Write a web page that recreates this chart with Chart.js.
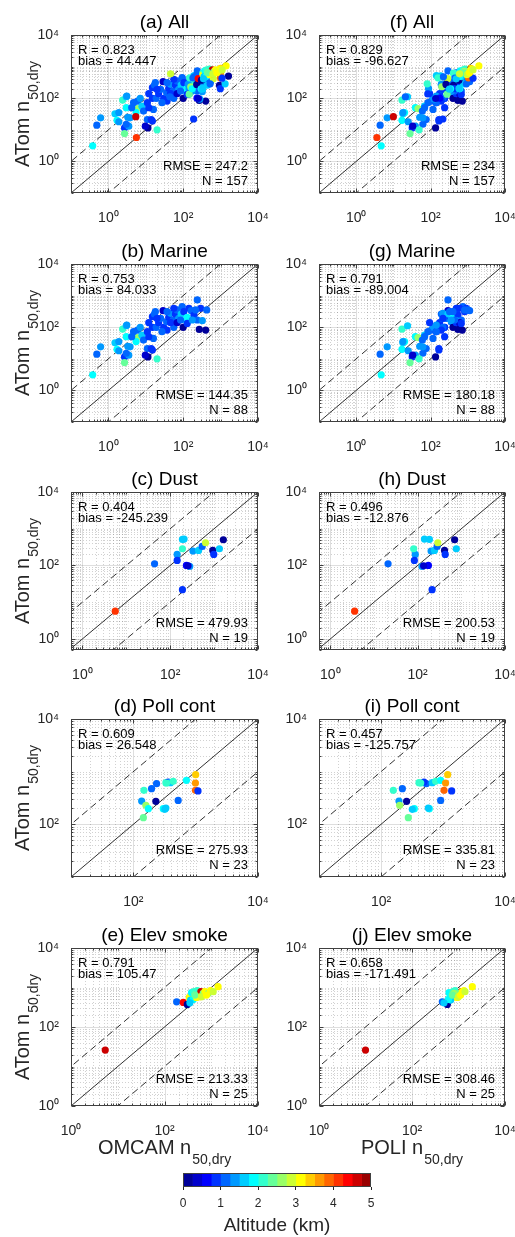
<!DOCTYPE html>
<html>
<head>
<meta charset="utf-8">
<script src="https://cdn.jsdelivr.net/npm/chart.js@4.4.0/dist/chart.umd.min.js"></script>
<style>
  body { margin: 0; background: #fff; width: 515px; height: 1237px; position: relative; overflow: hidden; }
  canvas { position: absolute; }
</style>
</head>
<body>
<script>
// ---- data (ATom = y, OMCAM = x left column, POLI = x right column, altitude in km = colour)
const marineAtom = [3.1, 14, 24, 32, 20, 18, 87, 111, 50, 25, 11.5, 13, 15, 7.6, 47, 35, 81, 99, 56, 39,
  72, 21, 11.5, 19, 10, 139, 215, 262, 99, 99, 139, 190, 334, 99, 149, 205, 275, 169, 262, 351,
  190, 262, 448, 310, 169, 205, 99, 99, 396, 334, 243, 730, 169, 396, 161, 85, 81, 351, 81, 72,
  44, 50, 50, 72, 24, 35, 117, 190, 310, 139, 139, 169, 132, 169, 351, 396, 310, 13, 21];
const marineOmcam = [0.38, 0.49, 0.62, 1.5, 1.7, 1.9, 2.4, 3.0, 3.0, 3.3, 2.7, 3.5, 3.0, 2.7, 5.8, 5.5, 6.0, 7.1, 7.9, 8.7,
  11, 11, 11.4, 15, 20, 12, 15, 17, 15, 19, 22, 25, 29, 30, 36, 41, 46, 54, 62, 69,
  76, 88, 94, 104, 116, 128, 100, 56, 142, 164, 194, 238, 238, 293, 324, 269, 399, 425, 37, 27,
  16, 12, 4.2, 4.7, 3.8, 1.9, 3.1, 20, 18, 46, 69, 85, 128, 175, 215, 56, 37, 9.7, 14];
const marinePoli = [4.7, 4.4, 6.8, 18, 17, 25, 17, 24, 39, 51, 32, 39, 62, 28, 46, 20, 104, 116, 69, 60,
  142, 76, 136, 167, 49, 94, 264, 194, 157, 238, 175, 264, 293, 238, 360, 324, 215, 360, 443, 491,
  215, 293, 741, 822, 360, 399, 399, 215, 912, 1120, 544, 293, 668, 603, 491, 544, 711, 1010, 194, 142,
  116, 238, 69, 85, 62, 18, 142, 215, 324, 491, 603, 443, 668, 360, 822, 491, 399, 33, 167];
const marineAlt = [1.9, 1.1, 1.4, 1.5, 1.9, 1.4, 2.1, 1.5, 1.8, 1.4, 0.9, 1.4, 1.0, 2.4, 2.6, 1.8, 1.0, 1.4, 1.5, 1.0,
  0.9, 1.0, 0.1, 0.9, 2.1, 0.9, 0.9, 1.0, 0.8, 1.0, 0.9, 1.0, 0.4, 0.9, 1.0, 0.9, 1.4, 1.0, 0.9, 1.0,
  1.4, 1.5, 1.0, 0.9, 1.8, 1.9, 0.1, 1.0, 0.9, 1.0, 0.9, 1.2, 1.0, 0.9, 1.4, 0.1, 0.1, 1.0, 0.9, 1.0,
  1.0, 0.9, 1.0, 1.1, 1.4, 1.4, 1.4, 0.9, 1.0, 0.9, 0.4, 1.0, 0.9, 1.4, 1.0, 0.9, 1.0, 0.4, 0.9];

const dustAtom = [5.7, 111, 200, 137, 523, 285, 100, 94, 22, 246, 257, 330, 415, 257, 200, 285, 501, 512, 98];
const dustOmcam = [5.6, 44, 144, 144, 207, 190, 234, 278, 190, 330, 443, 536, 638, 933, 982, 1320, 1624, 190, 255];
const dustPoli = [3.6, 21, 88, 84, 143, 81, 176, 126, 214, 203, 243, 279, 289, 412, 427, 767, 702, 186, 137];
const dustAlt = [4.1, 1.0, 1.4, 0.9, 1.5, 2.2, 0.6, 1.4, 0.9, 1.4, 1.5, 1.0, 2.9, 0.1, 0.9, 1.5, 0.2, 1.5, 0.4];

const pollAtom = [134, 277, 230, 198, 442, 475, 591, 273, 198, 204, 618, 636, 618, 655, 285, 684, 877, 609, 442, 430, 193, 609];
const pollOmcam = [145, 136, 159, 174, 148, 196, 236, 230, 302, 333, 333, 362, 395, 436, 524, 711, 1000, 991, 991, 1090, 321, 341];
const pollPoli = [276, 195, 200, 345, 158, 221, 538, 259, 602, 580, 410, 494, 673, 762, 916, 916, 1190, 1100, 1040, 1380, 320, 437];
const pollAlt = [2.4, 1.4, 2.6, 1.9, 2.2, 1.0, 1.1, 0.1, 1.8, 1.5, 2.1, 0.9, 1.5, 2.2, 1.0, 1.8, 3.4, 3.6, 3.9, 0.9, 1.6, 2.0];

const smokeAtom = [26, 435, 418, 372, 561, 738, 783, 710, 830, 644, 783, 583, 710, 783, 710, 830, 1050, 480, 499, 561, 644, 410, 583, 644, 783];
const smokeOmcam = [5.4, 182, 252, 307, 338, 379, 425, 485, 501, 553, 600, 571, 673, 730, 860, 964, 1400, 361, 412, 485, 447, 350, 620, 793, 1100];
const smokePoli = [10, 449, 530, 575, 737, 625, 762, 869, 841, 841, 1150, 913, 1020, 1210, 800, 1310, 1980, 679, 604, 944, 737, 488, 996, 1110, 1380];
const smokeAlt = [4.6, 1.1, 4.4, 0.1, 3.1, 1.9, 2.1, 2.6, 2.0, 2.9, 4.6, 3.4, 2.4, 3.1, 2.6, 3.1, 3.1, 1.6, 1.9, 3.1, 2.4, 1.5, 2.9, 3.1, 2.9];

// points only in the "All" panels
const otherAtom = [590];
const otherOmcam = [46];
const otherPoli = [600];
const otherAlt = [2.9];

const catNames = ['All', 'Marine', 'Dust', 'Poll cont', 'Elev smoke'];
const panelLetters = [['a', 'f'], ['b', 'g'], ['c', 'h'], ['d', 'i'], ['e', 'j']];
const statR = [['0.823', '0.829'], ['0.753', '0.791'], ['0.404', '0.496'], ['0.609', '0.457'], ['0.791', '0.658']];
const statBias = [['44.447', '-96.627'], ['84.033', '-89.004'], ['-245.239', '-12.876'], ['26.548', '-125.757'], ['105.47', '-171.491']];
const statRMSE = [['247.2', '234'], ['144.35', '180.18'], ['479.93', '200.53'], ['275.93', '335.81'], ['213.33', '308.46']];
const statN = ['157', '88', '19', '23', '25'];
const xNames = ['OMCAM', 'POLI'];

const axisMinX = [0.1, 0.1, 0.55, 10, 1];
const axisMinY = [0.1, 0.1, 0.5, 10, 1];
const axisMax = 1e4;
const tickExps = [0, 2, 4];          // labelled decades
const refFactors = [1, 10, 0.1];     // 1:1 and factor-of-10 lines
const refSpan = [1e-3, 1e6];

const altEdges = [0, 0.25, 0.5, 0.75, 1, 1.25, 1.5, 1.75, 2, 2.25, 2.5, 2.75, 3, 3.25, 3.5, 3.75, 4, 4.25, 4.5, 4.75, 5];
const altTicks = [0, 1, 2, 3, 4, 5];

// ---- style
const jet = ['#000099', '#0000cc', '#0000ff', '#0033ff', '#0066ff', '#0099ff', '#00ccff', '#00ffff', '#33ffcc', '#66ff99',
  '#99ff66', '#ccff33', '#ffff00', '#ffcc00', '#ff9900', '#ff6600', '#ff3300', '#ff0000', '#cc0000', '#990000'];
const FONT = '"Liberation Sans", Arial, Helvetica, sans-serif';
const AXIS_COL = '#262626';

const colLeft = [71, 319];
const colWidth = [187, 186];
const rowTop = [35, 264, 492, 719, 948];
const plotH = 158;
const PAD_L = 71, PAD_T = 35, PAD_R = 25, PAD_B = 65;

function altColor(a) {
  const i = Math.floor(a / 0.25);
  return jet[Math.max(0, Math.min(jet.length - 1, i))];
}

function logTicks(min, max) {
  const out = [];
  for (let k = Math.floor(Math.log10(min)); k <= Math.ceil(Math.log10(max)); k++) {
    for (let m = 1; m <= 9; m++) {
      const v = m * Math.pow(10, k);
      if (v >= min * 0.999999 && v <= max * 1.000001) out.push(v);
    }
  }
  return out;
}

function decadeOf(v) {
  const e = Math.log10(v);
  return Math.abs(e - Math.round(e)) < 1e-6 ? Math.round(e) : null;
}

const SUP = { '-': '\u207b', '0': '\u2070', '1': '\u00b9', '2': '\u00b2', '3': '\u00b3', '4': '\u2074' };
function tickText(v) {
  const e = decadeOf(v);
  if (e === null || !tickExps.includes(e)) return '';
  return '10' + String(e).split('').map(c => SUP[c]).join('');
}

function drawSubLabel(ctx, main, sub, x, y, rotate, subDrop) {
  ctx.save();
  ctx.translate(x, y);
  if (rotate) ctx.rotate(-Math.PI / 2);
  ctx.font = '20px ' + FONT;
  const w1 = ctx.measureText(main).width;
  ctx.font = '14px ' + FONT;
  const w2 = ctx.measureText(sub).width;
  const x0 = -(w1 + w2 + 1) / 2;
  ctx.fillStyle = AXIS_COL;
  ctx.textAlign = 'left';
  ctx.textBaseline = 'alphabetic';
  ctx.font = '20px ' + FONT;
  ctx.fillText(main, x0, 0);
  ctx.font = '14px ' + FONT;
  ctx.fillText(sub, x0 + w1 + 1, subDrop);
  ctx.restore();
}

const frame = {
  id: 'frame',
  beforeDatasetsDraw(chart) {
    const { ctx, chartArea: a } = chart;
    ctx.save();
    ctx.beginPath();
    ctx.rect(a.left, a.top, a.right - a.left, a.bottom - a.top);
    ctx.clip();
    ctx.lineWidth = 1;
    ['x', 'y'].forEach(id => {
      const s = chart.scales[id];
      s.ticks.forEach(t => {
        const e = decadeOf(t.value);
        const major = e !== null && tickExps.includes(e);
        const p = Math.round(s.getPixelForValue(t.value)) + 0.5;
        ctx.strokeStyle = major ? 'rgba(0,0,0,0.13)' : 'rgba(0,0,0,0.18)';
        ctx.setLineDash(major ? [] : [1, 2]);
        ctx.beginPath();
        if (id === 'x') { ctx.moveTo(p, a.top); ctx.lineTo(p, a.bottom); }
        else { ctx.moveTo(a.left, p); ctx.lineTo(a.right, p); }
        ctx.stroke();
      });
    });
    ctx.restore();
  },
  afterDraw(chart, args, o) {
    const { ctx, chartArea: a } = chart;
    const L = Math.round(a.left) + 0.5, R = Math.round(a.right) - 0.5;
    const T = Math.round(a.top) + 0.5, B = Math.round(a.bottom) - 0.5;
    ctx.save();
    // box and inward ticks on all four sides
    ctx.strokeStyle = '#404040';
    ctx.lineWidth = 1;
    ctx.setLineDash([]);
    ctx.strokeRect(L, T, R - L, B - T);
    ctx.beginPath();
    chart.scales.x.ticks.forEach(t => {
      const e = decadeOf(t.value);
      const len = (e !== null && tickExps.includes(e)) ? 4 : 2;
      const p = Math.round(chart.scales.x.getPixelForValue(t.value)) + 0.5;
      ctx.moveTo(p, B); ctx.lineTo(p, B - len);
      ctx.moveTo(p, T); ctx.lineTo(p, T + len);
    });
    chart.scales.y.ticks.forEach(t => {
      const e = decadeOf(t.value);
      const len = (e !== null && tickExps.includes(e)) ? 4 : 2;
      const p = Math.round(chart.scales.y.getPixelForValue(t.value)) + 0.5;
      ctx.moveTo(L, p); ctx.lineTo(L + len, p);
      ctx.moveTo(R, p); ctx.lineTo(R - len, p);
    });
    ctx.stroke();

    // statistics
    ctx.fillStyle = '#000';
    ctx.font = '13px ' + FONT;
    ctx.textBaseline = 'alphabetic';
    ctx.textAlign = 'left';
    ctx.fillText('R = ' + o.r, a.left + 7, a.top + 19);
    ctx.fillText('bias = ' + o.bias, a.left + 7, a.top + 30);
    ctx.textAlign = 'right';
    ctx.fillText('RMSE = ' + o.rmse, a.right - 10, a.bottom - 23);
    ctx.fillText('N = ' + o.n, a.right - 10, a.bottom - 8);

    // title
    ctx.textAlign = 'center';
    ctx.font = '19px ' + FONT;
    ctx.fillStyle = '#000';
    ctx.fillText(o.title, (a.left + a.right) / 2, a.top - 7);
    ctx.restore();

    if (o.yLabel) drawSubLabel(ctx, 'ATom n', '50,dry', a.left - 42, (a.top + a.bottom) / 2, true, 9);
    if (o.xLabel) drawSubLabel(ctx, o.xLabel + ' n', '50,dry', (a.left + a.right) / 2, a.bottom + 48, false, 10);
  }
};

function catArrays(ci) {
  if (ci === 1) return [marineAtom, marineOmcam, marinePoli, marineAlt];
  if (ci === 2) return [dustAtom, dustOmcam, dustPoli, dustAlt];
  if (ci === 3) return [pollAtom, pollOmcam, pollPoli, pollAlt];
  if (ci === 4) return [smokeAtom, smokeOmcam, smokePoli, smokeAlt];
  const parts = [1, 2, 3, 4].map(catArrays);
  parts.push([otherAtom, otherOmcam, otherPoli, otherAlt]);
  return [0, 1, 2, 3].map(k => parts.reduce((acc, p) => acc.concat(p[k]), []));
}

catNames.forEach((name, ri) => {
  const [atom, omcam, poli, alt] = catArrays(ri);
  [0, 1].forEach(ci => {
    const xs = ci === 0 ? omcam : poli;
    const w = colWidth[ci];
    const canvas = document.createElement('canvas');
    canvas.width = PAD_L + w + PAD_R;
    canvas.height = PAD_T + plotH + PAD_B;
    canvas.style.left = (colLeft[ci] - PAD_L) + 'px';
    canvas.style.top = (rowTop[ri] - PAD_T) + 'px';
    document.body.appendChild(canvas);

    const xMin = axisMinX[ri], yMin = axisMinY[ri];
    const pts = xs.map((x, i) => ({ x: x, y: atom[i] }));
    const refSets = refFactors.map(f => ({
      data: refSpan.map(s => ({ x: s, y: s * f })),
      showLine: true,
      pointRadius: 0,
      borderColor: '#1a1a1a',
      borderWidth: 0.9,
      borderDash: f === 1 ? [] : [7, 4]
    }));

    const tickOpts = {
      autoSkip: false, maxRotation: 0, minRotation: 0,
      color: AXIS_COL, font: { family: FONT, size: 14 },
      callback: v => tickText(v)
    };

    new Chart(canvas, {
      type: 'scatter',
      data: {
        datasets: [{
          data: pts,
          pointBackgroundColor: alt.map(altColor),
          pointBorderWidth: 0,
          pointRadius: 3.6,
          pointHoverRadius: 3.6
        }].concat(refSets)
      },
      options: {
        responsive: false,
        animation: false,
        events: [],
        layout: { padding: { left: 0, top: PAD_T, right: PAD_R, bottom: 0 } },
        plugins: {
          legend: { display: false },
          tooltip: { enabled: false },
          frame: {
            title: '(' + panelLetters[ri][ci] + ') ' + name,
            r: statR[ri][ci], bias: statBias[ri][ci], rmse: statRMSE[ri][ci], n: statN[ri],
            yLabel: ci === 0,
            xLabel: ri === catNames.length - 1 ? xNames[ci] : null
          }
        },
        scales: {
          x: {
            type: 'logarithmic', position: 'bottom', min: xMin, max: axisMax,
            afterBuildTicks: s => { s.ticks = logTicks(xMin, axisMax).map(v => ({ value: v })); },
            afterFit: s => { s.height = PAD_B; },
            grid: { display: false }, border: { display: false },
            ticks: Object.assign({ padding: 9 }, tickOpts)
          },
          y: {
            type: 'logarithmic', position: 'left', min: yMin, max: axisMax,
            afterBuildTicks: s => { s.ticks = logTicks(yMin, axisMax).map(v => ({ value: v })); },
            afterFit: s => { s.width = PAD_L; },
            grid: { display: false }, border: { display: false },
            ticks: Object.assign({ padding: 4 }, tickOpts)
          }
        }
      },
      plugins: [frame]
    });
  });
});

// ---- colour bar
const cbBox = {
  id: 'cbBox',
  afterDatasetsDraw(chart) {
    const { ctx, chartArea: a } = chart;
    ctx.save();
    ctx.strokeStyle = '#404040';
    ctx.lineWidth = 1;
    ctx.strokeRect(Math.round(a.left) + 0.5, Math.round(a.top) + 0.5,
      Math.round(a.right - a.left) - 1, Math.round(a.bottom - a.top) - 1);
    ctx.restore();
  }
};

const cb = document.createElement('canvas');
cb.width = 228;
cb.height = 70;
cb.style.left = '163px';
cb.style.top = '1167px';
document.body.appendChild(cb);

new Chart(cb, {
  type: 'bar',
  data: {
    labels: [''],
    datasets: jet.map((c, i) => ({
      data: [[altEdges[i], altEdges[i + 1]]],
      backgroundColor: c,
      borderWidth: 0,
      grouped: false,
      barPercentage: 1,
      categoryPercentage: 1
    }))
  },
  options: {
    indexAxis: 'y',
    responsive: false,
    animation: false,
    events: [],
    layout: { padding: { left: 20, right: 20, top: 6, bottom: 0 } },
    plugins: { legend: { display: false }, tooltip: { enabled: false } },
    scales: {
      y: { display: false },
      x: {
        type: 'linear', min: 0, max: 5,
        afterBuildTicks: s => { s.ticks = altTicks.map(v => ({ value: v })); },
        afterFit: s => { s.height = 50; },
        grid: { drawOnChartArea: false, drawTicks: true, tickLength: 3, color: AXIS_COL },
        border: { display: false },
        ticks: { padding: 6, color: AXIS_COL, font: { family: FONT, size: 12 } },
        title: { display: true, text: 'Altitude (km)', color: AXIS_COL, font: { family: FONT, size: 19 }, padding: 0 }
      }
    }
  },
  plugins: [cbBox]
});
</script>
</body>
</html>
